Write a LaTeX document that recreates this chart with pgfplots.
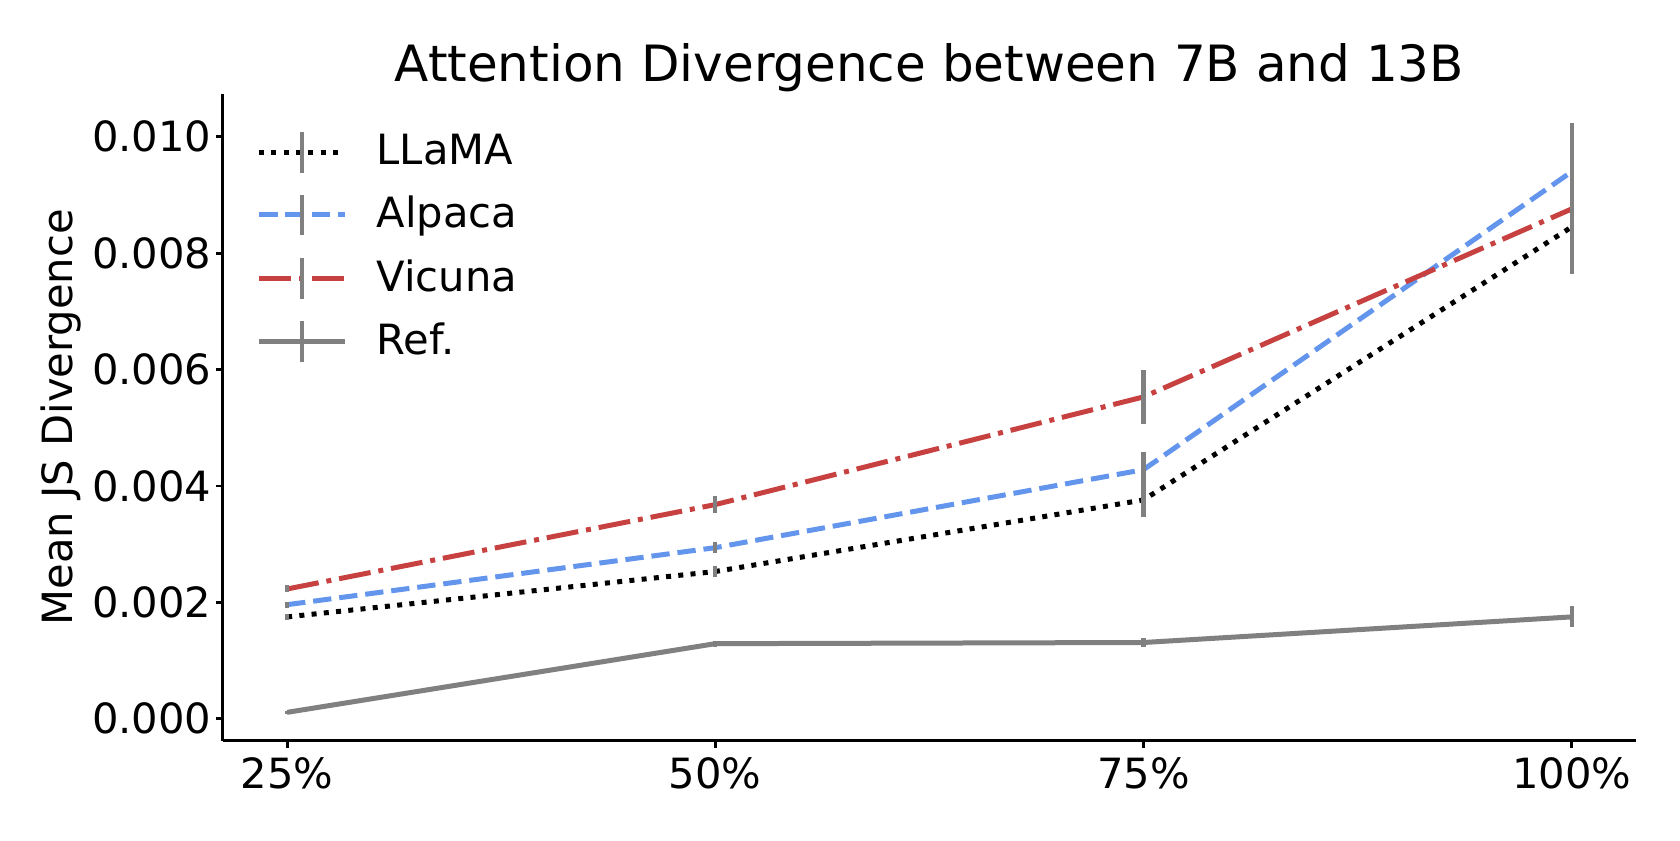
\documentclass[border=0pt]{standalone}
\usepackage{fontspec}
\setmainfont{DejaVu Sans}
\usepackage{pgfplots}
\pgfplotsset{compat=1.18}
\definecolor{myblue}{HTML}{6495ED}
\definecolor{myred}{RGB}{200,65,65}
\definecolor{mygray}{HTML}{808080}

\pgfplotstableread{
x y e
25 0.00175 0.00005
50 0.00253 0.00010
75 0.00376 0.00030
100 0.00845 0.00080
}\llama
\pgfplotstableread{
x y e
25 0.00196 0.00005
50 0.00294 0.00010
75 0.00428 0.00030
100 0.00940 0.00084
}\alpaca
\pgfplotstableread{
x y e
25 0.00223 0.00006
50 0.00368 0.00015
75 0.00553 0.00047
100 0.00876 0.00050
}\vicuna
\pgfplotstableread{
x y e
25 0.00011 0.00003
50 0.00129 0.00005
75 0.00131 0.00008
100 0.00175 0.00018
}\refdata

\begin{document}
\begin{tikzpicture}
\path[use as bounding box] (-53.5pt,-23.8pt) rectangle (349.7pt,177.8pt);
\begin{axis}[
  at={(0pt,0pt)}, anchor=south west,
  scale only axis, width=339.1pt, height=155.3pt,
  xmin=21.25, xmax=103.75,
  ymin=-0.00038, ymax=0.01074,
  axis x line*=bottom, axis y line*=left,
  axis line style={-, black, line width=0.7pt},
  xtick={25,50,75,100},
  xticklabels={25\%,50\%,75\%,100\%},
  ytick={0,0.002,0.004,0.006,0.008,0.010},
  scaled y ticks=false,
  yticklabel style={/pgf/number format/.cd, fixed, fixed zerofill, precision=3, assume math mode=true, /tikz/.cd, xshift=2.5pt},
  xticklabel style={yshift=1.2pt},
  tick align=outside,
  major tick length=1.7pt,
  tick style={black, line width=0.7pt},
  ticklabel style={font=\fontsize{10}{12}\selectfont},
  title={Attention Divergence between 7B and 13B},
  title style={font=\fontsize{12}{14}\selectfont, at={(axis description cs:0.5,1)}, anchor=base, yshift=-3.1pt},
  ylabel={Mean JS Divergence},
  ylabel style={font=\fontsize{10}{12}\selectfont, at={(axis description cs:-0.1147,0.5)}, anchor=center},
  error bars/error bar style={mygray, line width=1pt, solid},
  error bars/error mark=none,
  legend cell align=left,
  legend style={at={(axis description cs:0.0233,0.952)}, anchor=north west, draw=none, fill=none,
    font=\fontsize{10}{12}\selectfont, row sep=2.1pt, inner sep=0pt,
    nodes={inner sep=2pt}},
  legend image code/.code={
    \draw[#1] (0pt,0pt) -- (20.6pt,0pt);
    \draw[mygray, solid, line width=1pt] (10.3pt,-4.9pt) -- (10.3pt,4.9pt);
  },
  clip=false,
]
\addplot[black, line width=1.2pt, dash pattern=on 1.2pt off 1.75pt,
  error bars/.cd, y dir=both, y explicit] table[x=x, y=y, y error=e] {\llama};
\addlegendentry{\hspace{5pt}LLaMA}
\addplot[myblue, line width=1.2pt, dash pattern=on 4.4pt off 1.9pt,
  error bars/.cd, y dir=both, y explicit] table[x=x, y=y, y error=e] {\alpaca};
\addlegendentry{\hspace{5pt}Alpaca}
\addplot[myred, line width=1.2pt, dash pattern=on 7.7pt off 1.9pt on 1.2pt off 1.9pt,
  error bars/.cd, y dir=both, y explicit] table[x=x, y=y, y error=e] {\vicuna};
\addlegendentry{\hspace{5pt}Vicuna}
\addplot[mygray, line width=1.2pt,
  error bars/.cd, y dir=both, y explicit] table[x=x, y=y, y error=e] {\refdata};
\addlegendentry{\hspace{5pt}Ref.}
\end{axis}
\end{tikzpicture}
\end{document}
